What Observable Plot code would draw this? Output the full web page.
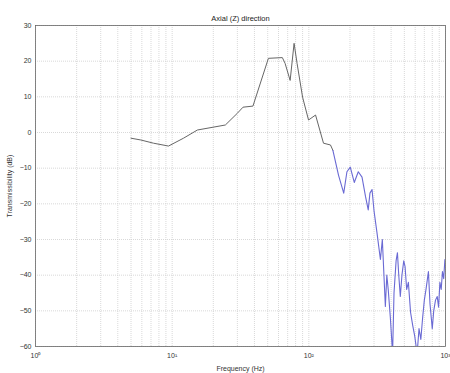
<!DOCTYPE html>
<html>
<head>
<meta charset="utf-8">
<script src="https://cdn.jsdelivr.net/npm/d3@7"></script>
<script src="https://cdn.jsdelivr.net/npm/@observablehq/plot@0.6"></script>
<style>
  html, body { margin: 0; padding: 0; background: #fff; }
  svg { display: block; }
</style>
</head>
<body>
<div id="chart"></div>
<script>
// Low-frequency part of the transmissibility response (Hz, dB)
const freqLow = [5.0, 5.9, 7.3, 9.4, 12.1, 15.3, 24.5, 30, 33, 39, 50.6, 64, 67, 73, 78, 82, 90, 99.5, 112, 128, 144, 150];
const dbLow   = [-1.6, -2.1, -3.0, -3.8, -1.6, 0.7, 2.1, 5.4, 7.1, 7.4, 20.8, 21, 19.4, 14.6, 25, 19.4, 9.9, 3.5, 4.9, -3.0, -3.5, -5];

// High-frequency part (Hz, dB)
const freqHigh = [150, 165, 180, 190, 201, 215, 230, 245, 260, 272, 280, 290, 300, 315, 334, 345, 363, 372, 381, 395, 410, 420, 435, 445, 455, 467, 480, 495, 506, 520, 535, 555, 575, 595, 620, 640, 660, 680, 700, 720, 750, 770, 800, 820, 845, 870, 890, 910, 930, 950, 970, 990, 1000];
const dbHigh   = [-5, -12, -17, -11, -9.7, -14, -11, -12.5, -18, -21.7, -17, -16, -22, -28, -35.6, -30, -48.8, -40, -44, -52, -62, -45, -36, -33.7, -40, -46, -40, -36, -37.6, -44, -42, -50.4, -54, -57, -62, -55, -58, -52, -47, -44, -39, -48, -55, -50, -47, -46, -49, -42, -44, -39, -41, -35.6, -36];

// Axis ticks
const yTicks = [30, 20, 10, 0, -10, -20, -30, -40, -50, -60];
const xDecades = [1, 10, 100, 1000];
const xDecadeLabels = ["10⁰", "10¹", "10²", "10³"];

const low = freqLow.map((f, i) => ({f, db: dbLow[i]}));
const high = freqHigh.map((f, i) => ({f, db: dbHigh[i]}));

// Log grid lines at 1..9 × each decade
const xGrid = [];
for (const d of [1, 10, 100]) for (let m = 1; m <= 9; m++) xGrid.push(m * d);
xGrid.push(1000);

const chart = Plot.plot({
  width: 450,
  height: 373,
  marginLeft: 35,
  marginRight: 5,
  marginTop: 25,
  marginBottom: 27,
  style: {fontFamily: "Liberation Sans, Arial, sans-serif", fontSize: "7px", color: "#333"},
  x: {
    type: "log",
    domain: [1, 1000],
    ticks: xDecades,
    tickFormat: d => xDecadeLabels[xDecades.indexOf(d)],
    label: "Frequency (Hz)",
    labelAnchor: "center",
    labelArrow: "none",
    labelOffset: 24,
    tickSize: 0,
    tickPadding: 7
  },
  y: {
    domain: [-60, 30],
    ticks: yTicks,
    label: "Transmissibility (dB)",
    labelAnchor: "center",
    labelArrow: "none",
    labelOffset: 28,
    tickSize: 0,
    tickPadding: 4
  },
  marks: [
    Plot.ruleX(xGrid, {stroke: "#cfcfcf", strokeWidth: 0.8, strokeDasharray: "1,1"}),
    Plot.ruleY(yTicks, {stroke: "#cfcfcf", strokeWidth: 0.8, strokeDasharray: "1,1"}),
    Plot.frame({stroke: "#666", strokeWidth: 0.8}),
    Plot.line(low, {x: "f", y: "db", stroke: "#666", strokeWidth: 1, clip: true}),
    Plot.line(high, {x: "f", y: "db", stroke: "#6a6ad4", strokeWidth: 1.1, clip: true}),
    Plot.text(["Axial (Z) direction"], {frameAnchor: "top", dy: -10, fontSize: 7.5, fill: "#222"})
  ]
});

document.getElementById("chart").appendChild(chart);
</script>
</body>
</html>
